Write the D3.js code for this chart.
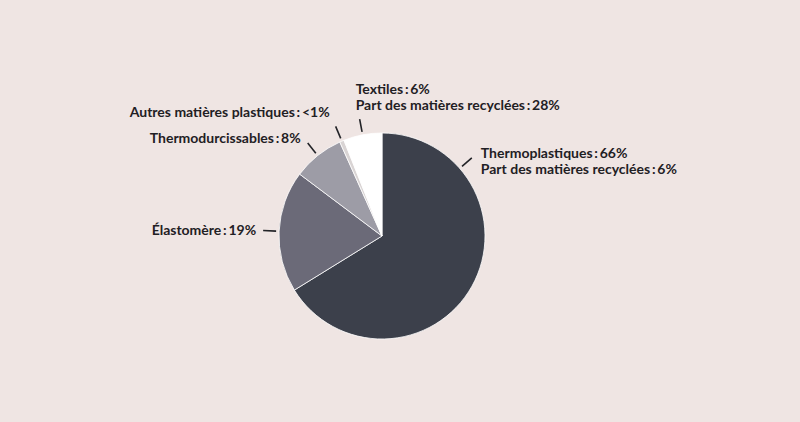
<!DOCTYPE html>
<html>
<head>
<meta charset="utf-8">
<script src="https://cdn.jsdelivr.net/npm/d3@7"></script>
<style>
  html, body { margin: 0; padding: 0; background: #efe5e3; }
  svg { display: block; }
  text { font-family: Lato, sans-serif; font-weight: 700; font-size: 14px; fill: #1f2024; }
</style>
</head>
<body>
<svg id="chart" width="800" height="422"></svg>
<script>
// data
const categories = ['Thermoplastiques', 'Élastomère', 'Thermodurcissables', 'Autres matières plastiques', 'Textiles']
const shares = [66, 19, 8, 0.7, 6]
const shareLabels = ['66%', '19%', '8%', '<1%', '6%']
const recycledLabels = ['6%', null, null, null, '28%']

const colors = ['#3c404b', '#6b6a78', '#9d9ca6', '#d9d4d4', '#ffffff']

const cx = 382, cy = 236, radius = 103

// label placement relative to the outer end of each tick: [dx, dy, anchor]
const labelOffsets = [
    [9, 0, 'start'],
    [-7, 4, 'end'],
    [-7, 0, 'end'],
    [-6, -9, 'end'],
    [-4, -25.5, 'start']
]

const svg = d3.select('#chart')
const g = svg.append('g').attr('transform', `translate(${cx},${cy})`)

const pie = d3.pie().sort(null).value(d => d)
const arcs = pie(shares)
const arc = d3.arc().innerRadius(0).outerRadius(radius)

g.selectAll('path.slice')
    .data(arcs)
    .enter()
    .append('path')
    .attr('class', 'slice')
    .attr('d', arc)
    .attr('fill', (d, i) => colors[i])
    .attr('stroke', '#ffffff')
    .attr('stroke-width', 0.8)

// leader angle: centroid, except the big slice whose label sits up right
function leaderAngle(d, i) {
    if (i === 0) return 49 * Math.PI / 180
    return (d.startAngle + d.endAngle) / 2
}

const nsp = '\u2009'

arcs.forEach(function(d, i) {
    let a = leaderAngle(d, i)
    let p1 = [Math.sin(a) * (radius + 3), -Math.cos(a) * (radius + 3)]
    let p2 = [Math.sin(a) * (radius + 16), -Math.cos(a) * (radius + 16)]
    g.append('line')
        .attr('x1', p1[0]).attr('y1', p1[1])
        .attr('x2', p2[0]).attr('y2', p2[1])
        .attr('stroke', '#222327')
        .attr('stroke-width', 1.6)

    let lines = [categories[i] + nsp + ':' + nsp + shareLabels[i]]
    if (recycledLabels[i]) lines.push('Part des matières recyclées' + nsp + ':' + nsp + recycledLabels[i])

    let off = labelOffsets[i]
    let tx = p2[0] + off[0], ty = p2[1] + off[1]

    lines.forEach(function(l, k) {
        g.append('text')
            .attr('text-anchor', off[2])
            .attr('x', tx)
            .attr('y', ty + k * 16)
            .text(l)
    })
})
</script>
</body>
</html>
